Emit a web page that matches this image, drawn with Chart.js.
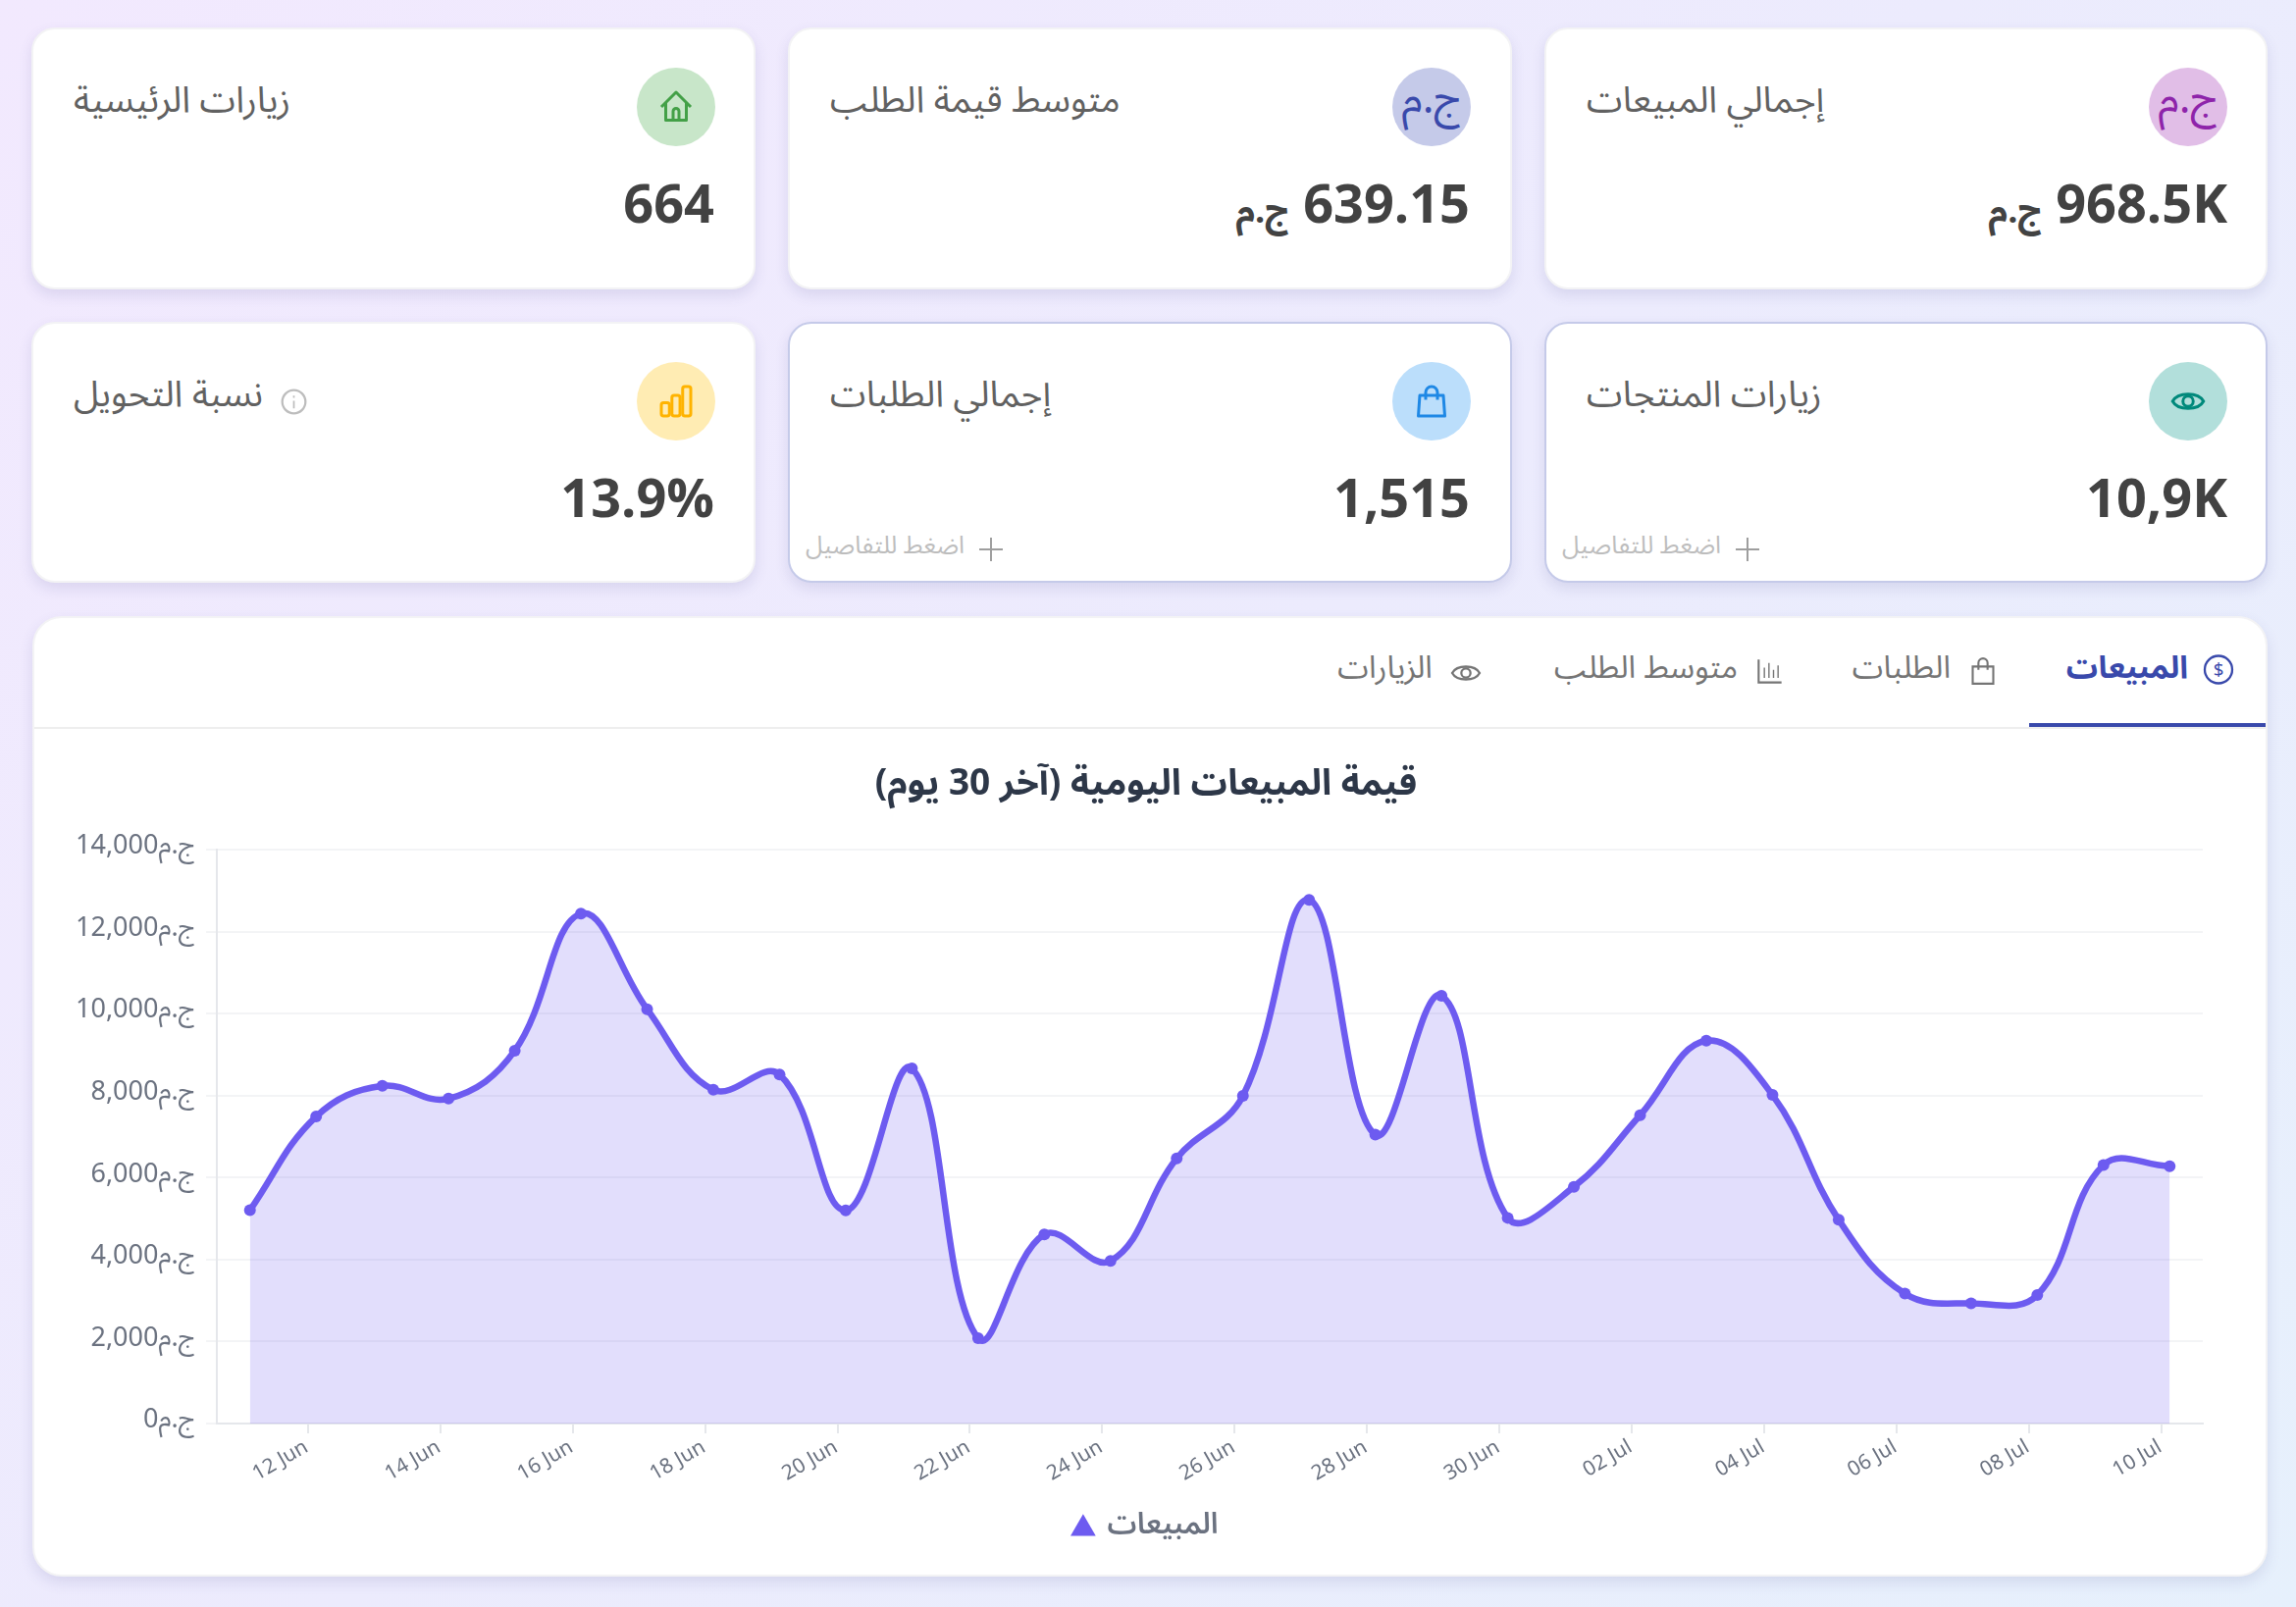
<!DOCTYPE html>
<html lang="ar"><head><meta charset="utf-8">
<script src="https://cdn.jsdelivr.net/npm/chart.js@4/dist/chart.umd.min.js"></script>
<style>
html,body{margin:0;padding:0;width:2340px;height:1638px;overflow:hidden;font-family:"Noto Sans Arabic","Noto Sans",sans-serif}
body{background:linear-gradient(135deg,#f2e9fe 0%,#ecebfd 50%,#e6f0fc 100%);position:relative}
.card{position:absolute;background:#fff;border-radius:24px;box-sizing:border-box;border:2px solid #f3f3f5;box-shadow:0 6px 14px rgba(70,70,140,.13)}
.card.link{border-color:#c5cae9}
.abs{position:absolute;white-space:nowrap;line-height:1}
.ttl{font-size:37px;color:#616161}
.val{font-size:54px;font-weight:700;color:#424242;direction:rtl}
.val small{font-size:36px;font-weight:700}
.circle{position:absolute;width:80px;height:80px;border-radius:50%;display:flex;align-items:center;justify-content:center;font-size:44px}
.circle span{line-height:1;transform:translateY(-8px)}
.hint{font-size:25px;color:#bdbdbd}
.tab{font-size:32px;color:#757575}
svg{display:block}
canvas{position:absolute}
</style></head><body>
<div class="card" style="left:33px;top:628px;width:2278px;height:979px;border-radius:30px" id="panel"></div>
<div id="root"></div>
<canvas id="c" style="left:40px;top:770px;width:2260px;height:813px" width="2260" height="813"></canvas>
<script>
const dayLabels=['11 Jun','12 Jun','13 Jun','14 Jun','15 Jun','16 Jun','17 Jun','18 Jun','19 Jun','20 Jun','21 Jun','22 Jun','23 Jun','24 Jun','25 Jun','26 Jun','27 Jun','28 Jun','29 Jun','30 Jun','01 Jul','02 Jul','03 Jul','04 Jul','05 Jul','06 Jul','07 Jul','08 Jul','09 Jul','10 Jul'];
const salesValues=[5208,7494,8242,7932,9102,12447,10114,8147,8520,5203,8669,2085,4618,3969,6474,8001,12784,7050,10443,5020,5779,7526,9345,8020,4975,3173,2935,3137,6310,6282];
const yTickStep=2000, yMax=14000;
const seriesName='المبيعات';
const chartTitle='قيمة المبيعات اليومية (آخر 30 يوم)';
const currency='ج.م';
const kpiTitles=['إجمالي المبيعات','متوسط قيمة الطلب','زيارات الرئيسية','زيارات المنتجات','إجمالي الطلبات','نسبة التحويل'];
const kpiValues=['968.5K','639.15','664','10,9K','1,515','13.9%'];
const tabNames=['المبيعات','الطلبات','متوسط الطلب','الزيارات'];
const hintText='اضغط للتفاصيل';

const icons={
home:c=>`<svg width="36" height="36" viewBox="0 0 24 24" fill="none" stroke="${c}" stroke-width="2" stroke-linejoin="round"><path d="M2 12 12 2l10 10M5 9.5V21h14V9.5"/><path d="M10 21v-6a2 2 0 0 1 4 0v6"/></svg>`,
eye:c=>`<svg width="36" height="36" viewBox="0 0 24 24" fill="none" stroke="${c}" stroke-width="2"><path d="M1.5 12C5 5.5 19 5.5 22.500 12 19 18.500 5 18.500 1.500 12Z"/><circle cx="12" cy="12" r="3.500"/></svg>`,
bag:c=>`<svg width="36" height="36" viewBox="0 0 24 24" fill="none" stroke="${c}" stroke-width="2" stroke-linejoin="round"><path d="M4 8h16l1 14H3Z"/><path d="M8 11V6a4 4 0 0 1 8 0v5"/></svg>`,
bars:c=>`<svg width="36" height="36" viewBox="0 0 24 24" fill="none" stroke="${c}" stroke-width="2" stroke-linejoin="round"><rect x="2" y="13" width="5.500" height="9" rx="1.500"/><rect x="9.200" y="8" width="5.500" height="14" rx="1.500"/><rect x="16.500" y="2" width="5.500" height="20" rx="1.500"/></svg>`};
const cols=[[1574,737],[803,738],[32,738]];
const rows=[[28,267],[328,266]];
const circleLeft=[2190,1419,649], valueRight=[2270,1498,728];
const tints=[['#e1bee7','#8e24aa',null],['#c5cae9','#3949ab',null],['#c8e6c9','#43a047','home'],['#b2dfdb','#00897b','eye'],['#bbdefb','#1e88e5','bag'],['#ffecb3','#ffb300','bars']];
const root=document.getElementById('root');let h='';
kpiTitles.forEach((t,i)=>{
  const [x,w]=cols[i%3],[y,ht]=rows[i<3?0:1],[bg,fg,ic]=tints[i],link=(i==3||i==4);
  h+=`<div class="card${link?' link':''}" style="left:${x}px;top:${y}px;width:${w}px;height:${ht}px"></div>`;
  h+=`<div class="circle" style="left:${circleLeft[i%3]}px;top:${y+41}px;background:${bg};color:${fg}">${ic?icons[ic](fg):`<span dir="rtl">${currency}</span>`}</div>`;
  h+=`<div class="abs ttl" dir="rtl" style="left:${x+43}px;top:${y+56}px">${t}</div>`;
  h+=`<div class="abs val" style="right:${2340-valueRight[i%3]}px;top:${y+155}px">${kpiValues[i]}${i<2?` <small>${currency}</small>`:''}</div>`;
  if(link){h+=`<div class="abs hint" dir="rtl" style="left:${x+18}px;top:${y+216}px">${hintText}</div>`;
    h+=`<svg class="abs" style="left:${x+195}px;top:${y+220}px" width="24" height="24" viewBox="0 0 24 24" stroke="#9e9e9e" stroke-width="2"><path d="M12 0v24M0 12h24"/></svg>`;}
});
h+=`<svg class="abs" style="left:286px;top:396px" width="27" height="27" viewBox="0 0 24 24" fill="none" stroke="#bdbdbd" stroke-width="2"><circle cx="12" cy="12" r="10.500"/><path d="M12 11v7M12 6.500v2" stroke-width="1.500"/></svg>`;
const tabIcons=[
 c=>`<svg width="33" height="33" viewBox="0 0 24 24" fill="none" stroke="${c}" stroke-width="1.700"><circle cx="12" cy="12" r="10.500"/><text x="12" y="17" font-size="14" font-family="Noto Sans" text-anchor="middle" fill="${c}" stroke="none">$</text></svg>`,
 c=>`<svg width="28" height="28" viewBox="0 0 24 24" fill="none" stroke="${c}" stroke-width="1.800"><path d="M3 8h18v15H3Z"/><path d="M8 11V5a4 4 0 0 1 8 0v6"/></svg>`,
 c=>`<svg width="28" height="28" viewBox="0 0 24 24" fill="none" stroke="${c}" stroke-width="1.800"><path d="M2 2v20h20"/><path d="M7 18V9M11 18V5M15 18v-7M19 18V7" stroke-width="1.200"/></svg>`,
 c=>`<svg width="32" height="32" viewBox="0 0 24 24" fill="none" stroke="${c}" stroke-width="1.700"><path d="M1.500 12C5 5.500 19 5.500 22.500 12 19 18.500 5 18.500 1.500 12Z"/><circle cx="12" cy="12" r="3.500"/></svg>`];
const tabIconCx=[2261,2021,1804,1494], tabTextRight=[2230,1988,1771,1460];
tabNames.forEach((t,i)=>{const col=i==0?'#3949ab':'#757575';
  h+=`<div class="abs" style="left:${tabIconCx[i]-16}px;top:${i==0?666:670}px;width:32px;display:flex;justify-content:center">${tabIcons[i](col)}</div>`;
  h+=`<div class="abs tab" dir="rtl" style="right:${2340-tabTextRight[i]}px;top:665px;color:${col};font-weight:${i==0?700:400}">${t}</div>`;
});
root.innerHTML=h;
const panel=document.getElementById('panel');
panel.innerHTML=`<div style="position:absolute;left:0;right:0;top:111px;height:2px;background:#eeeeee"></div><div style="position:absolute;right:0;width:241px;top:107px;height:4px;background:#3949ab"></div>`;

const FONT='"Noto Sans Arabic","Noto Sans",sans-serif';
const hourShift=0.125;
new Chart(document.getElementById('c'),{
 type:'line',
 data:{datasets:[{label:seriesName,yAxisID:'y',data:salesValues.map((v,i)=>({x:i+hourShift,y:v})),
   borderColor:'#6d5bf0',backgroundColor:'rgba(109,91,240,0.2)',fill:true,tension:0.4,borderWidth:6.5,
   pointRadius:6,pointBackgroundColor:'#6d5bf0',pointBorderColor:'#6d5bf0',pointBorderWidth:0,pointStyle:'circle'}]},
 options:{responsive:false,animation:false,devicePixelRatio:1,
  layout:{padding:{left:30,right:34,top:0,bottom:0}},
  plugins:{
   title:{display:true,text:chartTitle,color:'#2d3748',font:{family:FONT,size:37,weight:'700'},padding:{top:12,bottom:40}},
   legend:{position:'bottom',labels:{usePointStyle:true,pointStyle:'triangle',color:'#6b7280',boxHeight:21,boxWidth:19,font:{family:FONT,size:30,weight:'600'},padding:12}},
   tooltip:{enabled:false}},
  scales:{
   x:{type:'linear',min:hourShift-0.5,max:salesValues.length-1+hourShift+0.5,
      afterBuildTicks:s=>{s.ticks=dayLabels.map((d,i)=>({value:i})).filter(t=>t.value%2==1);},
      afterFit:s=>{s.height=80;},
      ticks:{autoSkip:false,minRotation:30,maxRotation:30,color:'#6b7280',padding:4,font:{family:FONT,size:21},callback:v=>dayLabels[v]},
      grid:{drawOnChartArea:false,color:'#e5e7eb',lineWidth:2,tickLength:10},border:{color:'#e5e7eb',width:2}},
   y:{min:0,max:yMax,
      afterFit:s=>{s.width=151;},
      ticks:{stepSize:yTickStep,color:'#6b7280',padding:11,font:{family:FONT,size:27},callback:v=>v.toLocaleString('en-US')+currency},
      grid:{color:'#f3f4f6',lineWidth:2,tickLength:11},border:{color:'#e5e7eb',width:2}},
   gutter:{type:'linear',position:'right',afterFit:s=>{s.width=21;},ticks:{display:false},grid:{display:false},border:{display:false}}
  }}
});
</script></body></html>
